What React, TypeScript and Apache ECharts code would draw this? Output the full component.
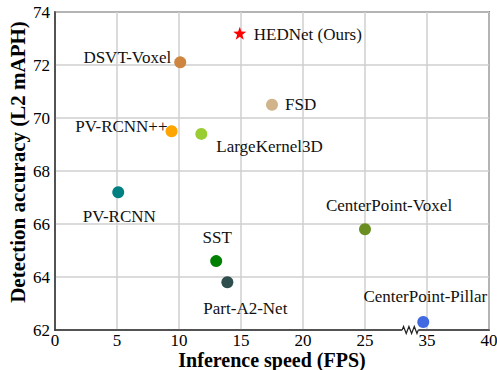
import React, { useEffect, useRef } from "react";
import * as echarts from "echarts";

const methods = [
  "HEDNet (Ours)",
  "DSVT-Voxel",
  "PV-RCNN++",
  "LargeKernel3D",
  "FSD",
  "PV-RCNN",
  "SST",
  "Part-A2-Net",
  "CenterPoint-Voxel",
  "CenterPoint-Pillar",
];
const fps = [14.9, 10.1, 9.4, 11.8, 17.5, 5.1, 13.0, 13.9, 25.0, 34.7];
const accuracy = [73.2, 72.1, 69.5, 69.4, 70.5, 67.2, 64.6, 63.8, 65.8, 62.3];
const colors = [
  "#ff0000",
  "#cd853f",
  "#ffa500",
  "#9acd32",
  "#d2b48c",
  "#008080",
  "#008000",
  "#2f4f4f",
  "#6b8e23",
  "#4169e1",
];
// label placement relative to each marker: [align, dx, dy]
const labelPlacement: [string, number, number][] = [
  ["left", 14, 1],
  ["right", -9, -5],
  ["right", -4, -5],
  ["left", 15, 13],
  ["left", 13, 0],
  ["center", 1, 24],
  ["center", 1, -24],
  ["center", 18, 26],
  ["center", 24, -24],
  ["center", 2, -26],
];
const xTicks = [0, 5, 10, 15, 20, 25, 35, 40];
const yTicks = [62, 64, 66, 68, 70, 72, 74];

// broken x axis: values above the break are shifted left by this amount
const BREAK_AT = 30;
const BREAK_SHIFT = 5;
const toAxisX = (v: number) => (v > BREAK_AT ? v - BREAK_SHIFT : v);
const toLabel = (v: number) => (v >= BREAK_AT ? v + BREAK_SHIFT : v);

const FONT = "'Liberation Serif', 'Times New Roman', serif";
const STAR =
  "path://M0,-10L2.35,-3.24L9.51,-3.09L3.8,1.24L5.88,8.09L0,4L-5.88,8.09L-3.8,1.24L-9.51,-3.09L-2.35,-3.24Z";

export default function App() {
  const ref = useRef<HTMLDivElement>(null);
  useEffect(() => {
    document.body.style.margin = "0";
    if (!ref.current) return;
    const chart = echarts.init(ref.current, null, { renderer: "svg" });
    const data = methods.map((name, i) => {
      const [align, dx, dy] = labelPlacement[i];
      return {
        name,
        value: [toAxisX(fps[i]), accuracy[i]],
        symbol: i === 0 ? STAR : "circle",
        symbolSize: i === 0 ? 13 : 12,
        itemStyle: { color: colors[i], opacity: 1 },
        label: {
          show: true,
          position: "inside",
          align,
          verticalAlign: "middle",
          offset: [dx, dy],
          formatter: name,
          color: "#111",
          fontFamily: FONT,
          fontSize: 17,
        },
      };
    });
    chart.setOption({
      animation: false,
      backgroundColor: "#fff",
      grid: {
        left: 55,
        right: 8,
        top: 12,
        bottom: 40,
        outerBoundsMode: "none",
        containLabel: false,
        show: true,
        borderColor: "#333",
        borderWidth: 1.5,
        backgroundColor: "transparent",
      },
      xAxis: {
        type: "value",
        min: xTicks[0],
        max: toAxisX(xTicks[xTicks.length - 1]),
        interval: 5,
        name: "Inference speed (FPS)",
        nameLocation: "middle",
        nameGap: 20,
        nameMoveOverlap: false,
        nameTextStyle: { fontFamily: FONT, fontSize: 20, fontWeight: "bold", color: "#000" },
        axisLine: { show: true, lineStyle: { color: "#333", width: 1.5 } },
        axisTick: { show: false },
        axisLabel: {
          margin: 2,
          fontFamily: FONT,
          fontSize: 17,
          color: "#000",
          formatter: (v: number) => String(toLabel(v)),
        },
        splitLine: { show: true, lineStyle: { color: "#cfcfcf", width: 1.5 } },
      },
      yAxis: {
        type: "value",
        min: yTicks[0],
        max: yTicks[yTicks.length - 1],
        interval: 2,
        name: "Detection accuracy (L2 mAPH)",
        nameLocation: "middle",
        nameGap: 27,
        nameMoveOverlap: false,
        nameTextStyle: {
          fontFamily: FONT,
          fontSize: 21,
          fontWeight: "bold",
          color: "#000",
          padding: [0, 0, 0, 18],
        },
        axisLine: { show: true, lineStyle: { color: "#333", width: 1.5 } },
        axisTick: { show: false },
        axisLabel: { margin: 5, fontFamily: FONT, fontSize: 17, color: "#000" },
        splitLine: { show: true, lineStyle: { color: "#cfcfcf", width: 1.5 } },
      },
      series: [
        {
          type: "scatter",
          data,
          z: 3,
        },
      ],
    });

    // zig-zag break marker on the x axis, placed through the axis scale
    const p0 = chart.convertToPixel({ gridIndex: 0 }, [28.0, yTicks[0]]) as number[];
    const p1 = chart.convertToPixel({ gridIndex: 0 }, [29.3, yTicks[0]]) as number[];
    if (p0 && p1) {
      const n = 6;
      const pts: number[][] = [[p0[0], p0[1]]];
      for (let k = 1; k <= n; k++) {
        const x = p0[0] + ((p1[0] - p0[0]) * (k - 0.5)) / n;
        pts.push([x, p0[1] + (k % 2 === 1 ? -3.5 : 3.5)]);
      }
      pts.push([p1[0], p1[1]]);
      chart.setOption({
        graphic: [
          {
            type: "line",
            shape: { x1: p0[0], y1: p0[1], x2: p1[0], y2: p1[1] },
            style: { stroke: "#fff", lineWidth: 3 },
            z: 10,
          },
          {
            type: "polyline",
            shape: { points: pts },
            style: { stroke: "#222", lineWidth: 1.2, fill: null },
            z: 11,
          },
        ],
      });
    }
    return () => chart.dispose();
  }, []);
  return <div ref={ref} style={{ width: 497, height: 370 }} />;
}
